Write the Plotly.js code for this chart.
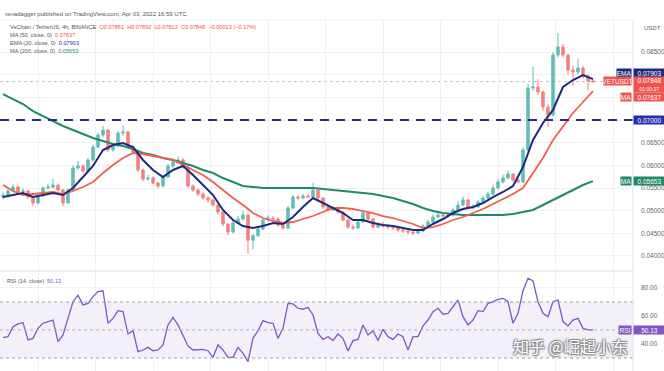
<!DOCTYPE html>
<html>
<head>
<meta charset="utf-8">
<script src="https://cdn.plot.ly/plotly-3.0.1.min.js"></script>
<style>html,body{margin:0;padding:0;background:#fff;}#chart{width:664px;height:371px;}</style>
</head>
<body>
<div id="chart"></div>
<script>
// ---- Data (4h candles, VET/USDT) ----
const openP = [
0.05300,0.05345,0.05434,0.05522,0.05412,0.05434,0.05301,0.05169,0.05323,0.05500,
0.05522,0.05566,0.05456,0.05169,0.05456,0.05941,0.05985,0.05875,0.06118,0.06404,
0.06669,0.06779,0.06338,0.06426,0.06713,0.06735,0.06404,0.06294,0.05897,0.05698,
0.05720,0.05610,0.05544,0.05742,0.05985,0.06073,0.06118,0.05963,0.05544,0.05456,
0.05367,0.05279,0.05235,0.05125,0.04970,0.04706,0.04529,0.04728,0.04816,0.04904,
0.04350,0.04450,0.04595,0.04794,0.04838,0.04816,0.04684,0.04617,0.05059,0.05301,
0.05279,0.05323,0.05300,0.05456,0.05279,0.05081,0.05015,0.05059,0.04970,0.04794,
0.04639,0.04617,0.04750,0.04948,0.04816,0.04639,0.04684,0.04662,0.04639,0.04617,
0.04573,0.04551,0.04529,0.04507,0.04551,0.04662,0.04750,0.04860,0.04904,0.04882,
0.04900,0.05015,0.05125,0.05235,0.05059,0.05081,0.05191,0.05279,0.05367,0.05500,
0.05632,0.05720,0.05809,0.05676,0.05632,0.06338,0.07706,0.07728,0.07618,0.07287,
0.07110,0.08434,0.08610,0.08434,0.08103,0.08059,0.08147,0.07971,0.07861];
const highP = [
0.05400,0.05480,0.05580,0.05560,0.05490,0.05460,0.05330,0.05360,0.05540,0.05600,
0.05700,0.05600,0.05480,0.05500,0.06000,0.06100,0.06020,0.06160,0.06450,0.06720,
0.06870,0.06800,0.06480,0.06760,0.06880,0.06760,0.06440,0.06320,0.05930,0.05790,
0.05760,0.05640,0.05780,0.06030,0.06150,0.06200,0.06160,0.05990,0.05580,0.05490,
0.05400,0.05320,0.05260,0.05150,0.05000,0.04730,0.04780,0.04880,0.05000,0.04930,
0.04480,0.04640,0.04840,0.04900,0.04880,0.04850,0.04720,0.05100,0.05350,0.05340,
0.05370,0.05380,0.05620,0.05500,0.05300,0.05120,0.05100,0.05080,0.04990,0.04820,
0.04700,0.04790,0.05000,0.04970,0.04840,0.04740,0.04760,0.04700,0.04670,0.04660,
0.04640,0.04590,0.04570,0.04600,0.04700,0.04800,0.04920,0.04960,0.04950,0.04950,
0.05060,0.05200,0.05320,0.05260,0.05150,0.05240,0.05330,0.05420,0.05560,0.05700,
0.05800,0.05880,0.05830,0.05720,0.06400,0.07800,0.08170,0.07900,0.07650,0.07350,
0.08500,0.08920,0.08680,0.08470,0.08200,0.08350,0.08200,0.08000,0.07892];
const lowP = [
0.05250,0.05310,0.05400,0.05370,0.05380,0.05260,0.05100,0.05140,0.05300,0.05470,
0.05490,0.05420,0.05100,0.05150,0.05430,0.05900,0.05820,0.05850,0.06080,0.06380,
0.06620,0.06290,0.06300,0.06400,0.06650,0.06360,0.06250,0.05850,0.05650,0.05660,
0.05580,0.05500,0.05520,0.05720,0.05950,0.06040,0.05930,0.05500,0.05410,0.05320,
0.05240,0.05180,0.05080,0.04920,0.04660,0.04460,0.04500,0.04700,0.04780,0.04050,
0.04150,0.04420,0.04570,0.04760,0.04780,0.04640,0.04580,0.04600,0.05030,0.05230,
0.05250,0.05280,0.05280,0.05240,0.05040,0.04980,0.04990,0.04930,0.04760,0.04590,
0.04580,0.04600,0.04730,0.04780,0.04600,0.04610,0.04620,0.04600,0.04570,0.04530,
0.04510,0.04470,0.04460,0.04480,0.04520,0.04630,0.04720,0.04830,0.04850,0.04850,
0.04870,0.04990,0.05100,0.05020,0.05030,0.05060,0.05160,0.05250,0.05340,0.05470,
0.05600,0.05690,0.05640,0.05600,0.05610,0.06300,0.07650,0.07550,0.07200,0.06850,
0.07080,0.08380,0.08380,0.08000,0.07750,0.08000,0.07900,0.07650,0.07812];
const closeP = [
0.05345,0.05434,0.05522,0.05412,0.05434,0.05301,0.05169,0.05323,0.05500,0.05522,
0.05566,0.05456,0.05169,0.05456,0.05941,0.05985,0.05875,0.06118,0.06404,0.06669,
0.06779,0.06338,0.06426,0.06713,0.06735,0.06404,0.06294,0.05897,0.05698,0.05720,
0.05610,0.05544,0.05742,0.05985,0.06073,0.06118,0.05963,0.05544,0.05456,0.05367,
0.05279,0.05235,0.05125,0.04970,0.04706,0.04529,0.04728,0.04816,0.04904,0.04350,
0.04450,0.04595,0.04794,0.04838,0.04816,0.04684,0.04617,0.05059,0.05301,0.05279,
0.05323,0.05300,0.05456,0.05279,0.05081,0.05015,0.05059,0.04970,0.04794,0.04639,
0.04617,0.04750,0.04948,0.04816,0.04639,0.04684,0.04662,0.04639,0.04617,0.04573,
0.04551,0.04529,0.04507,0.04551,0.04662,0.04750,0.04860,0.04904,0.04882,0.04900,
0.05015,0.05125,0.05235,0.05059,0.05081,0.05191,0.05279,0.05367,0.05500,0.05632,
0.05720,0.05809,0.05676,0.05632,0.06338,0.07706,0.07728,0.07618,0.07287,0.07110,
0.08434,0.08610,0.08434,0.08103,0.08059,0.08147,0.07971,0.07861,0.07848];

// Moving averages, sampled every 2nd candle
const ma200 = [
0.07573,0.07463,0.07353,0.07198,0.07088,0.06978,0.06868,0.06779,0.06691,0.06603,
0.06537,0.06470,0.06426,0.06360,0.06272,0.06228,0.06162,0.06118,0.06051,0.05985,
0.05897,0.05831,0.05720,0.05632,0.05544,0.05522,0.05500,0.05500,0.05500,0.05500,
0.05500,0.05500,0.05478,0.05456,0.05434,0.05412,0.05390,0.05367,0.05323,0.05279,
0.05213,0.05147,0.05059,0.04992,0.04948,0.04926,0.04904,0.04904,0.04904,0.04904,
0.04904,0.04926,0.04970,0.05015,0.05125,0.05235,0.05345,0.05456,0.05566,0.05653];
const ma50 = [
0.05566,0.05434,0.05345,0.05367,0.05390,0.05412,0.05367,0.05434,0.05522,0.05632,
0.05831,0.06007,0.06162,0.06272,0.06250,0.06206,0.06162,0.06118,0.06007,0.05897,
0.05787,0.05632,0.05456,0.05279,0.05125,0.04948,0.04838,0.04772,0.04728,0.04750,
0.04816,0.04882,0.04970,0.05059,0.05059,0.05037,0.04992,0.04948,0.04882,0.04838,
0.04772,0.04706,0.04617,0.04639,0.04706,0.04794,0.04860,0.04948,0.05037,0.05147,
0.05257,0.05367,0.05500,0.05831,0.06162,0.06559,0.06868,0.07154,0.07397,0.07637];
const ema20 = [
0.05301,0.05345,0.05390,0.05301,0.05345,0.05390,0.05345,0.05500,0.05742,0.05985,
0.06338,0.06448,0.06492,0.06404,0.06118,0.05897,0.05742,0.05897,0.05985,0.05787,
0.05566,0.05345,0.05015,0.04794,0.04661,0.04617,0.04661,0.04728,0.04706,0.04860,
0.05081,0.05279,0.05169,0.05059,0.04948,0.04794,0.04794,0.04728,0.04684,0.04661,
0.04617,0.04573,0.04573,0.04706,0.04816,0.04948,0.05037,0.05081,0.05169,0.05301,
0.05412,0.05544,0.05963,0.06559,0.06934,0.07221,0.07728,0.07882,0.07993,0.07903];

const rsi = [
44.5,45.2,52.4,54.3,55.2,42.9,44.0,51.2,54.8,56.0,
57.1,41.7,46.4,58.3,70.2,74.8,67.9,69.0,73.8,77.4,
78.0,54.8,58.3,63.8,63.1,47.1,49.5,34.5,35.7,37.6,
35.2,35.7,39.3,53.6,59.0,53.6,46.4,38.6,35.7,35.7,
36.2,35.2,30.5,39.3,35.7,30.5,30.5,37.6,33.3,27.4,
44.0,49.5,56.7,55.2,54.8,44.0,51.2,69.0,68.6,65.5,
64.8,66.2,60.7,47.6,43.3,45.2,42.4,47.1,44.0,35.0,
42.4,43.3,53.6,46.4,49.5,42.4,50.5,45.2,43.3,47.1,
45.2,35.7,45.2,45.2,52.9,57.1,63.1,65.5,61.2,61.9,
66.7,71.4,59.5,53.6,57.1,63.8,63.1,69.0,70.2,71.9,
72.6,70.2,54.8,61.9,78.0,86.9,85.0,70.2,61.9,59.5,
70.2,71.4,56.0,52.9,57.1,58.3,51.2,50.0,50.13];

// tick labels (those hidden behind price boxes in the reference are left blank)
const priceTicks = [0.040,0.045,0.050,0.055,0.060,0.065,0.070,0.075,0.080,0.085];
const priceTickText = ['0.04000','0.04500','0.05000','0.05500','0.06000','0.06500','','','','0.08500'];
const rsiTicks = [40,60,80];
const rsiTickText = ['40.00','60.00','80.00'];
const supportLevel = 0.07;
const lastClose = 0.07848;

// ---- Rendering ----
const idx = closeP.map((_, i) => i);
const maIdx = ema20.map((_, k) => k * 2);

const RED = '#ef5350', GREEN = '#26a69a', NAVY = '#1f2a7c', MAGREEN = '#1f8a6b', PURPLE = '#7e57c2';
const H = 371, PW = 633;
const py = p => (H - p) / H;

const traces = [
  {type:'candlestick', x: idx, open: openP, high: highP, low: lowP, close: closeP,
   xaxis:'x', yaxis:'y', whiskerwidth:0, opacity:0.72,
   increasing:{line:{color:GREEN,width:1}, fillcolor:GREEN},
   decreasing:{line:{color:RED,width:1}, fillcolor:RED}, hoverinfo:'skip'},
  {type:'scatter', mode:'lines', x: maIdx, y: ma200, xaxis:'x', yaxis:'y', line:{color:MAGREEN,width:2}, hoverinfo:'skip'},
  {type:'scatter', mode:'lines', x: maIdx, y: ma50, xaxis:'x', yaxis:'y', line:{color:'#f0604f',width:1.8}, hoverinfo:'skip'},
  {type:'scatter', mode:'lines', x: maIdx, y: ema20, xaxis:'x', yaxis:'y', line:{color:NAVY,width:2}, hoverinfo:'skip'},
  {type:'scatter', mode:'lines', x: idx, y: rsi, xaxis:'x2', yaxis:'y2', line:{color:PURPLE,width:1.3}, hoverinfo:'skip'}
];

const FONT = 'Liberation Sans, Arial, sans-serif';
function box(text, yPix, color, right, w, h, size) {
  return {xref:'paper', yref:'paper', x: 1, y: py(yPix), xanchor: right ? 'right' : 'left', yanchor:'middle',
    xshift: right ? -1 : 0, text: text, showarrow:false, bgcolor: color, borderpad:0,
    width: w, height: h || 8, align:'center', font:{family:FONT, size: size || 6.5, color:'#fff'}};
}
function txt(text, xPix, yPix, size, color) {
  return {xref:'paper', yref:'paper', x: xPix / PW, y: py(yPix), xanchor:'left', yanchor:'middle',
    text: text, showarrow:false, font:{family:FONT, size: size, color: color || '#555'}};
}

const annotations = [
  txt('renadagger published on TradingView.com, Apr 03, 2022 16:59 UTC', 3, 14, 6, '#555'),
  txt('VeChain / TetherUS, 4h, BINANCE  <span style="color:#ef5350">O0.07861  H0.07892  L0.07812  C0.07848  −0.00013 (−0.17%)</span>', 8, 27, 5.6, '#555'),
  txt('MA (50, close, 0)  <span style="color:#ef5350">0.07637</span>', 8, 34.5, 5.6, '#555'),
  txt('EMA (20, close, 0)  <span style="color:#2636a0">0.07903</span>', 8, 42.5, 5.6, '#555'),
  txt('MA (200, close, 0)  <span style="color:#1f8a6b">0.05653</span>', 8, 51, 5.6, '#555'),
  txt('RSI (14, close)  <span style="color:#7e57c2">50.13</span>', 5, 281, 5.6, '#555'),
  {xref:'paper', yref:'paper', x: 1, y: py(28), xanchor:'left', yanchor:'middle', xshift:9, text:'USDT', showarrow:false, font:{family:FONT,size:6,color:'#666'}},
  box('EMA', 73, NAVY, true, 14),
  box('0.07903', 73, NAVY, false, 31),
  box('VETUSDT', 81, RED, true, 27),
  box('0.07848<br><span style="font-size:5px">01:00:27</span>', 84.5, RED, false, 31, 15),
  box('MA', 97, RED, true, 10),
  box('0.07637', 97, RED, false, 31),
  box('0.07000', 119.5, '#2430a8', false, 31),
  box('MA', 181, MAGREEN, true, 10),
  box('0.05653', 181, MAGREEN, false, 31),
  box('RSI', 330, PURPLE, true, 12),
  box('50.13', 330, PURPLE, false, 31),
  {xref:'paper', yref:'paper', x: 570 / PW, y: py(346), xanchor:'center', yanchor:'middle',
   text:'知乎 @崛起小东', showarrow:false,
   font:{family:'Noto Sans CJK SC, sans-serif', size:16, color:'#ffffff',
         shadow:'1px 1px 1px #8a8a8a, -1px -1px 1px #8a8a8a, 1px -1px 1px #8a8a8a, -1px 1px 1px #8a8a8a'}}
];

const shapes = [
  {type:'rect', xref:'paper', yref:'y2', x0:0, x1:1, y0:30, y1:70, fillcolor:'rgba(126,87,194,0.09)', line:{width:0}, layer:'below'},
  {type:'line', xref:'paper', yref:'y2', x0:0, x1:1, y0:70, y1:70, line:{color:'#a0a0a0', width:1, dash:'3px,3px'}},
  {type:'line', xref:'paper', yref:'y2', x0:0, x1:1, y0:50, y1:50, line:{color:'#b0b0b0', width:1, dash:'3px,3px'}},
  {type:'line', xref:'paper', yref:'y2', x0:0, x1:1, y0:30, y1:30, line:{color:'#a0a0a0', width:1, dash:'3px,3px'}},
  {type:'line', xref:'paper', yref:'y', x0:0, x1:1, y0:lastClose, y1:lastClose, line:{color:'#c4c4c4', width:1, dash:'dot'}, layer:'below'},
  {type:'line', xref:'paper', yref:'y', x0:0, x1:1, y0:supportLevel, y1:supportLevel, line:{color:'#2b2f80', width:2, dash:'9px,7px'}},
  {type:'line', xref:'paper', yref:'paper', x0:0, x1:1, y0:py(271), y1:py(271), line:{color:'#dcdfe6', width:1}},
  {type:'line', xref:'paper', yref:'paper', x0:0, x1:1, y0:py(20), y1:py(20), line:{color:'#eceef2', width:1}},
  {type:'line', xref:'paper', yref:'paper', x0:1, x1:1, y0:0, y1:py(20), line:{color:'#e0e3eb', width:1}}
];

const gridC = '#eef0f4';
const layout = {
  width:664, height:371,
  margin:{l:0, r:31, t:0, b:0, pad:0},
  paper_bgcolor:'#fff', plot_bgcolor:'#fff',
  showlegend:false, hovermode:false,
  font:{family:FONT, size:6.5, color:'#666'},
  xaxis:{domain:[0,1], range:[-0.6,126], anchor:'y', showticklabels:false, ticks:'',
         showgrid:true, gridcolor:gridC, tick0:7, dtick:11.5, zeroline:false, showline:false,
         rangeslider:{visible:false}, fixedrange:true},
  xaxis2:{domain:[0,1], range:[-0.6,126], anchor:'y2', showticklabels:false, ticks:'',
         showgrid:true, gridcolor:gridC, tick0:7, dtick:11.5, zeroline:false, showline:false, fixedrange:true},
  yaxis:{domain:[py(270), py(20)], range:[0.03691,0.09206], side:'right', anchor:'x',
         tickmode:'array', tickvals:priceTicks, ticktext:priceTickText, ticks:'', ticklabelstandoff:7,
         showgrid:true, gridcolor:gridC, zeroline:false, showline:false,
         tickfont:{family:FONT, size:6.5, color:'#666'}, fixedrange:true},
  yaxis2:{domain:[0, py(272)], range:[20.7,91.4], side:'right', anchor:'x2',
         tickmode:'array', tickvals:rsiTicks, ticktext:rsiTickText, ticks:'', ticklabelstandoff:7,
         showgrid:true, gridcolor:gridC, zeroline:false, showline:false,
         tickfont:{family:FONT, size:6.5, color:'#666'}, fixedrange:true},
  annotations: annotations,
  shapes: shapes
};

Plotly.newPlot('chart', traces, layout, {staticPlot:true, displayModeBar:false});
</script>
</body>
</html>
